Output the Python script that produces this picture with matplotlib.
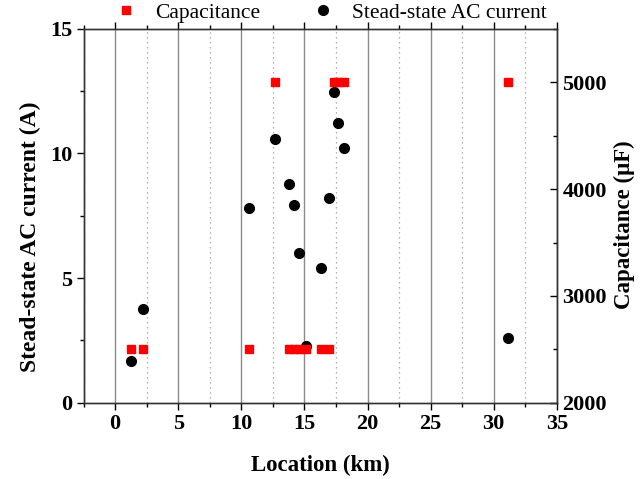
import matplotlib.pyplot as plt
from matplotlib.lines import Line2D
from matplotlib.ticker import MultipleLocator

plt.rcParams['font.family'] = ['Liberation Serif', 'DejaVu Serif']

location = [1.24, 2.2, 10.58, 12.7, 13.75, 14.17, 14.6, 15.16, 16.35, 16.93, 17.35, 17.64, 18.1, 31.15]
current = [1.68, 3.77, 7.83, 10.59, 8.77, 7.92, 6.0, 2.26, 5.39, 8.21, 12.46, 11.24, 10.22, 2.6]
capacitance = [2500, 2500, 2500, 5000, 2500, 2500, 2500, 2500, 2500, 2500, 5000, 5000, 5000, 5000]

fig = plt.figure(figsize=(6.43, 4.79), dpi=100)
ax = fig.add_axes([0.13, 0.159, 0.736, 0.781])
ax2 = ax.twinx()

ax.plot(location, current, 'o', color='black', markersize=7, label='Stead-state AC current')
ax2.plot(location, capacitance, 's', color='red', markersize=6.3, label='Capacitance')

ax.set_xlim(-2.5, 35)
ax.set_ylim(0, 15)
ax2.set_ylim(2000, 5500)

ax.xaxis.set_major_locator(MultipleLocator(5))
ax.xaxis.set_minor_locator(MultipleLocator(2.5))
ax.yaxis.set_major_locator(MultipleLocator(5))
ax.yaxis.set_minor_locator(MultipleLocator(2.5))
ax2.yaxis.set_major_locator(MultipleLocator(1000))
ax2.yaxis.set_minor_locator(MultipleLocator(500))
ax.set_xticks([0, 5, 10, 15, 20, 25, 30, 35])

ax.grid(True, which='major', axis='x', color='#8a8a8a', linewidth=1)
ax.grid(True, which='minor', axis='x', color='#9a9a9a', linewidth=0.9, linestyle=(0, (1, 3)))

ax.tick_params(axis='both', which='major', direction='out', length=5, width=1,
               labelsize=16, pad=3)
ax.tick_params(axis='both', which='minor', direction='out', length=3, width=1)
ax.tick_params(axis='x', which='both', top=True)
ax2.tick_params(axis='y', which='major', direction='in', length=5, width=1, labelsize=16, pad=4)
ax2.tick_params(axis='y', which='minor', direction='in', length=3, width=1)
for lab in ax.get_xticklabels() + ax.get_yticklabels() + ax2.get_yticklabels():
    lab.set_fontweight('bold')

ax.set_xlabel('Location (km)', fontsize=16.5, fontweight='bold', labelpad=15)
ax.set_ylabel('Stead-state AC current (A)', fontsize=17, fontweight='bold')
ax2.set_ylabel('Capacitance (\u03bcF)', fontsize=16.5, fontweight='bold')
ax.yaxis.set_label_coords(-0.09, 0.444)
ax2.yaxis.set_label_coords(1.12, 0.476)

for a in (ax, ax2):
    for sp in a.spines.values():
        sp.set_linewidth(1)
        sp.set_color('#333333')

handles = [Line2D([], [], marker='s', color='red', linestyle='none', markersize=6.3),
           Line2D([], [], marker='o', color='black', linestyle='none', markersize=7)]
fig.legend(handles, ['Capacitance', 'Stead-state AC current'], loc='center',
           bbox_to_anchor=(0.515, 0.973), ncol=2, frameon=False, fontsize=15.5,
           columnspacing=2.4, handlelength=1, handletextpad=0.85)

fig.savefig('out.png', dpi=100)
